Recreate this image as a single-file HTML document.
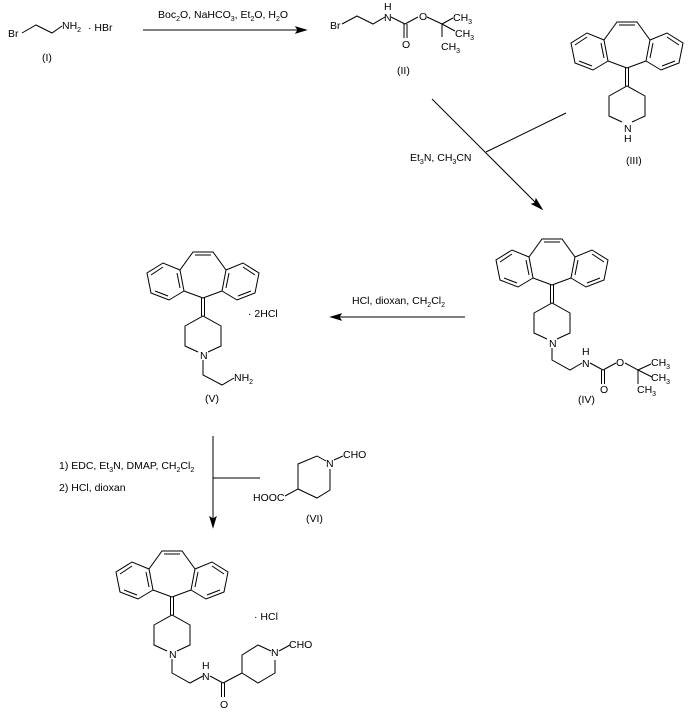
<!DOCTYPE html>
<html><head><meta charset="utf-8"><style>
html,body{margin:0;padding:0;background:#fff;}
svg{display:block;}
text{font-family:"Liberation Sans",Arial,sans-serif;font-size:10.5px;fill:#000;}
.s{font-size:7px;}
</style></head><body>
<svg width="694" height="721" viewBox="0 0 694 721" xmlns="http://www.w3.org/2000/svg">
<defs>
<g id="core" fill="none" stroke="#000" stroke-width="1">
<polyline points="0,0 -19,-7 -23,-28 -10,-46 10,-46 23,-28 19,-7 0,0"/>
<line x1="-8" y1="-43" x2="8" y2="-43"/>
<polyline points="-23,-28 -40,-35 -56,-25 -52,-5 -34,2 -19,-7"/>
<line x1="-23" y1="-10" x2="-26" y2="-25"/>
<line x1="-40" y1="-31" x2="-52" y2="-23"/>
<line x1="-48" y1="-7" x2="-35" y2="-2"/>
<polyline points="23,-28 40,-35 56,-25 52,-5 34,2 19,-7"/>
<line x1="23" y1="-10" x2="26" y2="-25"/>
<line x1="40" y1="-31" x2="52" y2="-23"/>
<line x1="48" y1="-7" x2="35" y2="-2"/>
<line x1="-1.5" y1="0" x2="-1.5" y2="18"/>
<line x1="1.5" y1="0" x2="1.5" y2="18"/>
<polyline points="5,54 18,48 18,28 0,18 -18,28 -18,48 -5,54"/>
</g>
</defs>
<g fill="none" stroke="#000" stroke-width="1">
<polyline points="22,33 36,25 52,33 62,26"/>
<line x1="143" y1="30" x2="300" y2="30"/>
<polygon points="306,30 296,27 298,30 296,33" fill="#000"/>
<polyline points="342,24 357,16 373,24 385,17"/>
<line x1="391" y1="17" x2="405" y2="24"/>
<line x1="404" y1="24" x2="404" y2="38"/><line x1="407" y1="24" x2="407" y2="38"/>
<line x1="405" y1="24" x2="418" y2="17"/>
<line x1="427" y1="17" x2="442" y2="24"/>
<line x1="442" y1="24" x2="453" y2="18"/>
<line x1="442" y1="24" x2="455" y2="31"/>
<line x1="442" y1="24" x2="442" y2="37"/>
<line x1="432" y1="99" x2="538" y2="205"/>
<polygon points="542,209 532,204 535,203 536,199" fill="#000"/>
<line x1="566" y1="113" x2="486" y2="152"/>
<polyline points="552,348 552,360 570,370 582,363"/>
<line x1="590" y1="363" x2="603" y2="370"/>
<line x1="601.5" y1="370" x2="601.5" y2="384"/><line x1="604.5" y1="370" x2="604.5" y2="384"/>
<line x1="603" y1="370" x2="616" y2="363"/>
<line x1="625" y1="363" x2="638" y2="370"/>
<line x1="638" y1="370" x2="651" y2="364"/>
<line x1="638" y1="370" x2="652" y2="377"/>
<line x1="638" y1="370" x2="638" y2="384"/>
<line x1="465" y1="317" x2="337" y2="317"/>
<polygon points="331,317 341,314 339,317 341,320" fill="#000"/>
<polyline points="203,360 203,375 222,385 234,378"/>
<line x1="213" y1="436" x2="213" y2="521"/>
<polygon points="213,527 210,517 213,519 216,517" fill="#000"/>
<line x1="213" y1="478" x2="260" y2="478"/>
<polyline points="326,461 317,456 298,464 298,489 285,496"/>
<polyline points="298,489 317,498 330,490 330,469"/>
<line x1="334" y1="460" x2="343" y2="456"/>
<polyline points="172,659 172,673 190,683 203,676"/>
<line x1="210" y1="676" x2="223" y2="683"/>
<line x1="221.5" y1="683" x2="221.5" y2="697"/><line x1="224.5" y1="683" x2="224.5" y2="697"/>
<line x1="223" y1="683" x2="242" y2="673"/>
<polyline points="242,673 242,655 258,645 271,651"/>
<polyline points="242,673 258,683 275,673 275,660"/>
<line x1="279" y1="651" x2="290" y2="645"/>
</g>
<use href="#core" x="627" y="68"/>
<use href="#core" x="552" y="285"/>
<use href="#core" x="203" y="298"/>
<use href="#core" x="172" y="597"/>
<text x="8" y="37">Br</text>
<text x="62" y="29">NH<tspan class="s" dy="3">2</tspan></text>
<text x="88" y="31">· HBr</text>
<text x="42" y="61">(I)</text>
<text x="158" y="18">Boc<tspan class="s" dy="3">2</tspan><tspan dy="-3">O, NaHCO</tspan><tspan class="s" dy="3">3</tspan><tspan dy="-3">, Et</tspan><tspan class="s" dy="3">2</tspan><tspan dy="-3">O, H</tspan><tspan class="s" dy="3">2</tspan><tspan dy="-3">O</tspan></text>
<text x="330" y="29">Br</text>
<text x="384" y="10">H</text><text x="384" y="21">N</text>
<text x="402" y="48">O</text>
<text x="419" y="20">O</text>
<text x="453" y="21">CH<tspan class="s" dy="3">3</tspan></text>
<text x="455" y="37">CH<tspan class="s" dy="3">3</tspan></text>
<text x="441" y="50">CH<tspan class="s" dy="3">3</tspan></text>
<text x="397" y="74">(II)</text>
<text x="624" y="132">N</text><text x="624" y="142">H</text>
<text x="626" y="164">(III)</text>
<text x="410" y="161">Et<tspan class="s" dy="3">3</tspan><tspan dy="-3">N, CH</tspan><tspan class="s" dy="3">3</tspan><tspan dy="-3">CN</tspan></text>
<text x="549" y="347">N</text>
<text x="582" y="355">H</text><text x="582" y="367">N</text>
<text x="600" y="393">O</text>
<text x="616" y="366">O</text>
<text x="651" y="366">CH<tspan class="s" dy="3">3</tspan></text>
<text x="651" y="381">CH<tspan class="s" dy="3">3</tspan></text>
<text x="637" y="393">CH<tspan class="s" dy="3">3</tspan></text>
<text x="578" y="403">(IV)</text>
<text x="352" y="304">HCl, dioxan, CH<tspan class="s" dy="3">2</tspan><tspan dy="-3">Cl</tspan><tspan class="s" dy="3">2</tspan></text>
<text x="200" y="359">N</text>
<text x="234" y="381">NH<tspan class="s" dy="3">2</tspan></text>
<text x="248" y="317">· 2HCl</text>
<text x="205" y="402">(V)</text>
<text x="59" y="469">1) EDC, Et<tspan class="s" dy="3">3</tspan><tspan dy="-3">N, DMAP, CH</tspan><tspan class="s" dy="3">2</tspan><tspan dy="-3">Cl</tspan><tspan class="s" dy="3">2</tspan></text>
<text x="59" y="491">2) HCl, dioxan</text>
<text x="326" y="467">N</text>
<text x="343" y="458">CHO</text>
<text x="253" y="501">HOOC</text>
<text x="306" y="522">(VI)</text>
<text x="169" y="658">N</text>
<text x="202" y="669">H</text><text x="202" y="680">N</text>
<text x="220" y="708">O</text>
<text x="271" y="656">N</text>
<text x="289" y="648">CHO</text>
<text x="254" y="620">· HCl</text>
</svg>
</body></html>
